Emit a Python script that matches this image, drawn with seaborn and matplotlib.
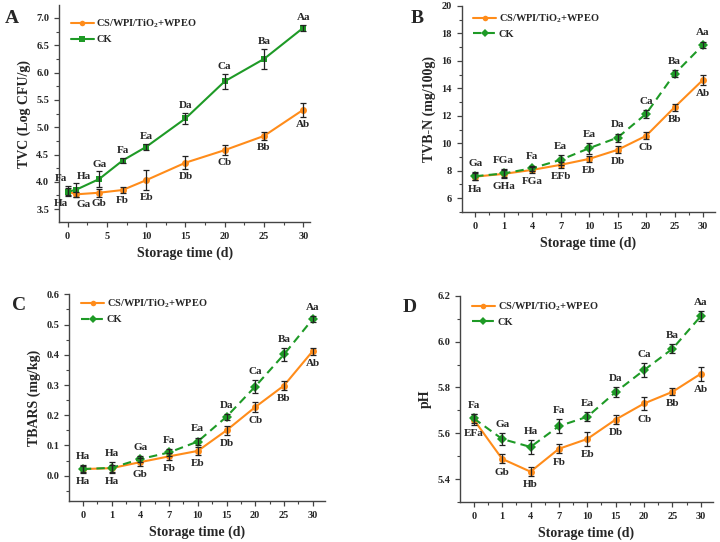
import matplotlib
matplotlib.use("Agg")
import matplotlib.pyplot as plt
from matplotlib.ticker import MultipleLocator
import seaborn as sns
import numpy as np
import pandas as pd

days = [0, 1, 4, 7, 10, 15, 20, 25, 30]
groups = ["CS/WPI/TiO$_\\mathbf{2}$+WPEO", "CK"]

# TVC (Log CFU/g)
tvc_cs = [3.83, 3.77, 3.80, 3.85, 4.03, 4.35, 4.58, 4.84, 5.32]
tvc_cs_err = [0.09, 0.05, 0.07, 0.05, 0.18, 0.12, 0.09, 0.08, 0.13]
tvc_ck = [3.82, 3.85, 4.05, 4.39, 4.64, 5.16, 5.84, 6.25, 6.82]
tvc_ck_err = [0.06, 0.12, 0.14, 0.05, 0.06, 0.10, 0.14, 0.18, 0.06]
tvc_top = ["Fa", "Ha", "Ga", "Fa", "Ea", "Da", "Ca", "Ba", "Aa"]
tvc_bot = ["Ha", "Ga", "Gb", "Fb", "Eb", "Db", "Cb", "Bb", "Ab"]

# TVB-N (mg/100g)
tvbn_cs = [7.57, 7.77, 8.06, 8.43, 8.86, 9.52, 10.54, 12.62, 14.62]
tvbn_cs_err = [0.25, 0.25, 0.2, 0.2, 0.2, 0.25, 0.25, 0.25, 0.35]
tvbn_ck = [7.6, 7.8, 8.18, 8.79, 9.64, 10.41, 12.14, 15.05, 17.16]
tvbn_ck_err = [0.3, 0.3, 0.2, 0.35, 0.4, 0.3, 0.3, 0.25, 0.25]
tvbn_top = ["Ga", "FGa", "Fa", "Ea", "Ea", "Da", "Ca", "Ba", "Aa"]
tvbn_bot = ["Ha", "GHa", "FGa", "EFb", "Eb", "Db", "Cb", "Bb", "Ab"]

# TBARS (mg/kg)
tbars_cs = [0.022, 0.025, 0.045, 0.064, 0.082, 0.150, 0.227, 0.298, 0.412]
tbars_cs_err = [0.012, 0.012, 0.012, 0.012, 0.012, 0.015, 0.017, 0.015, 0.012]
tbars_ck = [0.022, 0.026, 0.055, 0.077, 0.113, 0.195, 0.295, 0.401, 0.518]
tbars_ck_err = [0.010, 0.018, 0.010, 0.012, 0.013, 0.010, 0.020, 0.020, 0.010]
tbars_top = ["Ha", "Ha", "Ga", "Fa", "Ea", "Da", "Ca", "Ba", "Aa"]
tbars_bot = ["Ha", "Ha", "Gb", "Fb", "Eb", "Db", "Cb", "Bb", "Ab"]

# pH
ph_cs = [5.66, 5.488, 5.432, 5.532, 5.575, 5.66, 5.73, 5.781, 5.86]
ph_cs_err = [0.025, 0.02, 0.02, 0.02, 0.03, 0.02, 0.03, 0.015, 0.03]
ph_ck = [5.665, 5.575, 5.54, 5.631, 5.672, 5.78, 5.876, 5.969, 6.112]
ph_ck_err = [0.02, 0.025, 0.03, 0.03, 0.02, 0.02, 0.03, 0.02, 0.02]
ph_top = ["Fa", "Ga", "Ha", "Fa", "Ea", "Da", "Ca", "Ba", "Aa"]
ph_bot = ["EFa", "Gb", "Hb", "Fb", "Eb", "Db", "Cb", "Bb", "Ab"]

sns.set_style("ticks")
plt.rcParams["font.family"] = ["Liberation Serif", "DejaVu Serif"]
plt.rcParams["font.weight"] = "bold"
plt.rcParams["axes.labelweight"] = "bold"
plt.rcParams["mathtext.fontset"] = "custom"
plt.rcParams["mathtext.bf"] = "Liberation Serif:bold"
plt.rcParams["mathtext.rm"] = "Liberation Serif:bold"

orange = "#FF8C1A"
green = "#1E9A26"
palette = {groups[0]: orange, groups[1]: green}

fig = plt.figure(figsize=(7.2, 5.42), dpi=100)
axA = fig.add_axes([0.082, 0.590, 0.349, 0.401])
axB = fig.add_axes([0.641, 0.609, 0.352, 0.380])
axC = fig.add_axes([0.096, 0.076, 0.355, 0.381])
axD = fig.add_axes([0.639, 0.074, 0.351, 0.380])


def panel(ax, xs, cs, cs_err, ck, ck_err, top, bot, ck_marker, ck_dash, ylabel, gap,
          leg_anchor, x_off=None):
    df = pd.DataFrame({
        "x": list(xs) * 2,
        "value": cs + ck,
        "group": [groups[0]] * len(xs) + [groups[1]] * len(xs),
    })
    sns.lineplot(data=df, x="x", y="value", hue="group", style="group",
                 palette=palette, markers={groups[0]: "o", groups[1]: ck_marker},
                 dashes={groups[0]: "", groups[1]: ck_dash},
                 markersize=5, markeredgewidth=0, linewidth=1.5, ax=ax,
                 errorbar=None)
    for vals, errs in ((cs, cs_err), (ck, ck_err)):
        ax.errorbar(xs, vals, yerr=errs, fmt="none", ecolor="#222222",
                    elinewidth=0.9, capsize=2.2, capthick=0.9, zorder=5)
    if x_off is None:
        x_off = [(0, 0)] * len(xs)
    for i, x in enumerate(xs):
        ya = max(cs[i] + cs_err[i], ck[i] + ck_err[i])
        yb = min(cs[i] - cs_err[i], ck[i] - ck_err[i])
        ax.annotate(top[i], (x, ya), xytext=(x_off[i][0], gap), textcoords="offset points",
                    ha="center", va="bottom", fontsize=8, fontweight="bold")
        ax.annotate(bot[i], (x, yb), xytext=(x_off[i][1], -gap), textcoords="offset points",
                    ha="center", va="top", fontsize=8, fontweight="bold")
    ax.set_xlabel("Storage time (d)", fontsize=10, labelpad=4)
    ax.set_ylabel(ylabel, fontsize=10, labelpad=4)
    sns.despine(ax=ax)
    for s in ("left", "bottom"):
        ax.spines[s].set_color("#444444")
        ax.spines[s].set_linewidth(1.0)
    ax.tick_params(which="major", length=3.5, width=0.9, labelsize=7.5, color="#444444")
    ax.tick_params(which="minor", length=2, width=0.8, color="#444444")
    leg = ax.legend(loc="upper left", bbox_to_anchor=leg_anchor, frameon=False,
                    fontsize=7.5, handlelength=2.2, handletextpad=0.25, labelspacing=0.45,
                    markerscale=0.8)
    for t in leg.get_texts():
        t.set_fontweight("bold")


# A
panel(axA, days, tvc_cs, tvc_cs_err, tvc_ck, tvc_ck_err, tvc_top, tvc_bot,
      "s", "", "TVC (Log CFU/g)", 2, (0.01, 0.985),
      x_off=[(-5, -5), (6, 6)] + [(0, 0)] * 7)
axA.set_xlim(-1.1, 30.9)
axA.set_ylim(3.26, 7.24)
axA.xaxis.set_major_locator(MultipleLocator(5))
axA.xaxis.set_minor_locator(MultipleLocator(2.5))
axA.yaxis.set_minor_locator(MultipleLocator(0.25))
axA.set_yticks(np.arange(3.5, 7.01, 0.5))
axA.set_yticklabels([f"{v:.1f}" for v in np.arange(3.5, 7.01, 0.5)])

pos = list(range(len(days)))

# B
panel(axB, pos, tvbn_cs, tvbn_cs_err, tvbn_ck, tvbn_ck_err, tvbn_top, tvbn_bot,
      "D", (4, 2.5), "TVB-N (mg/100g)", 3, (0.01, 1.015))
axB.set_ylim(5, 20)
axB.set_yticks(range(6, 21, 2))
axB.yaxis.set_minor_locator(MultipleLocator(1))

# C
panel(axC, pos, tbars_cs, tbars_cs_err, tbars_ck, tbars_ck_err, tbars_top, tbars_bot,
      "D", (4, 2.5), "TBARS (mg/kg)", 3, (0.01, 1.03))
axC.set_ylim(-0.083, 0.6)
axC.set_yticks(np.arange(0, 0.61, 0.1))
axC.set_yticklabels([f"{v:.1f}" for v in np.arange(0, 0.61, 0.1)])
axC.yaxis.set_minor_locator(MultipleLocator(0.05))

# D
panel(axD, pos, ph_cs, ph_cs_err, ph_ck, ph_ck_err, ph_top, ph_bot,
      "D", (4, 2.5), "pH", 3, (0.01, 1.025))
axD.set_ylim(5.3, 6.2)
axD.set_yticks([5.4, 5.6, 5.8, 6.0, 6.2])
axD.set_yticklabels(["5.4", "5.6", "5.8", "6.0", "6.2"])
axD.yaxis.set_minor_locator(MultipleLocator(0.1))

for ax in (axB, axC, axD):
    ax.set_xlim(-0.48, 8.42)
    ax.set_xticks(pos)
    ax.set_xticklabels([str(d) for d in days])
    ax.xaxis.set_minor_locator(MultipleLocator(0.5))

for label, x, y in (("A", 0.006, 0.966), ("B", 0.571, 0.966), ("C", 0.016, 0.436), ("D", 0.559, 0.432)):
    fig.text(x, y, label, fontsize=14, fontweight="bold", va="center")

fig.savefig("out.png", dpi=100)
